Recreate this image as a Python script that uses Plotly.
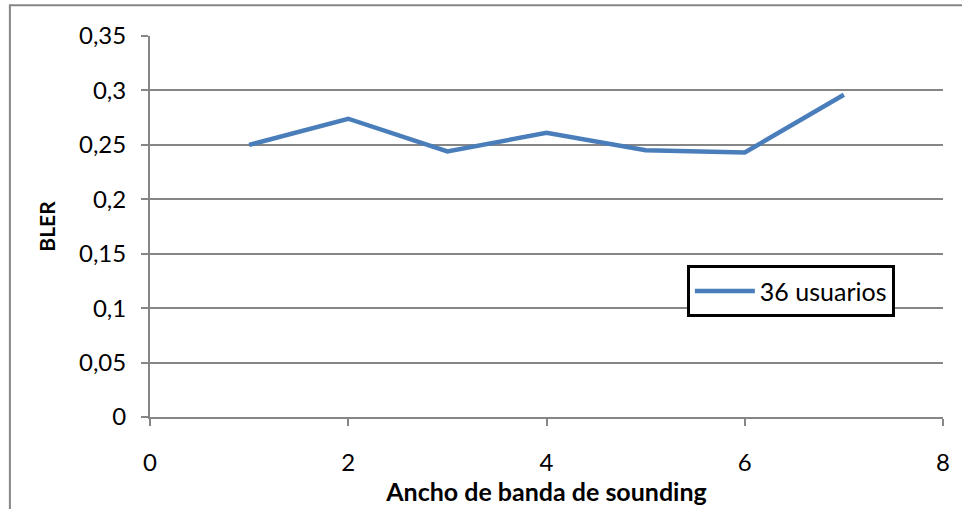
import plotly.graph_objects as go

x_vals = [1, 2, 3, 4, 5, 6, 7]
bler = [0.250, 0.274, 0.244, 0.261, 0.245, 0.243, 0.296]
series_name = "36 usuarios"
y_tickvals = [0, 0.05, 0.1, 0.15, 0.2, 0.25, 0.3, 0.35]
y_ticktext = ["0", "0,05", "0,1", "0,15", "0,2", "0,25", "0,3", "0,35"]
x_tickvals = [0, 2, 4, 6, 8]
x_ticktext = ["0", "2", "4", "6", "8"]

FONT = "Lato, Open Sans, sans-serif"
GRID = "#868686"

fig = go.Figure()
fig.add_trace(go.Scatter(
    x=x_vals, y=bler, mode="lines", name=series_name,
    line=dict(color="#4a7ebb", width=4.5),
))

fig.update_layout(
    width=962, height=509,
    margin=dict(l=150, r=14, t=36, b=88),
    paper_bgcolor="white", plot_bgcolor="white",
    font=dict(family=FONT, size=20, color="black"),
    showlegend=True,
    legend=dict(
        x=0.677, y=0.398, xanchor="left", yanchor="top",
        bordercolor="black", borderwidth=3, bgcolor="white",
        font=dict(family=FONT, size=25, color="black"),
        itemwidth=60,
        tracegroupgap=0,
    ),
    xaxis=dict(
        range=[0, 8], tickvals=x_tickvals, ticktext=x_ticktext,
        showgrid=False, zeroline=False,
        showline=True, linecolor=GRID, linewidth=2,
        ticks="outside", ticklen=7, tickcolor=GRID, tickwidth=2,
        tickfont=dict(family=FONT, size=24),
        ticklabelstandoff=16,
        title=dict(text="<b>Ancho de banda de sounding</b>", standoff=4,
                   font=dict(family=FONT, size=25)),
    ),
    yaxis=dict(
        range=[0, 0.35], tickvals=y_tickvals, ticktext=y_ticktext,
        showgrid=True, gridcolor=GRID, gridwidth=2, zeroline=False,
        showline=True, linecolor=GRID, linewidth=2,
        ticks="outside", ticklen=7, tickcolor=GRID, tickwidth=2,
        tickfont=dict(family=FONT, size=24),
        ticklabelstandoff=10,
        title=dict(text="<b>BLER</b>", standoff=18,
                   font=dict(family=FONT, size=21)),
    ),
    shapes=[dict(
        type="rect", xref="paper", yref="paper",
        x0=-0.1767, x1=1.2, y0=-0.4, y1=1.0805,
        line=dict(color=GRID, width=2), fillcolor="rgba(0,0,0,0)",
        layer="below",
    )],
)

fig.write_html("out.html")
